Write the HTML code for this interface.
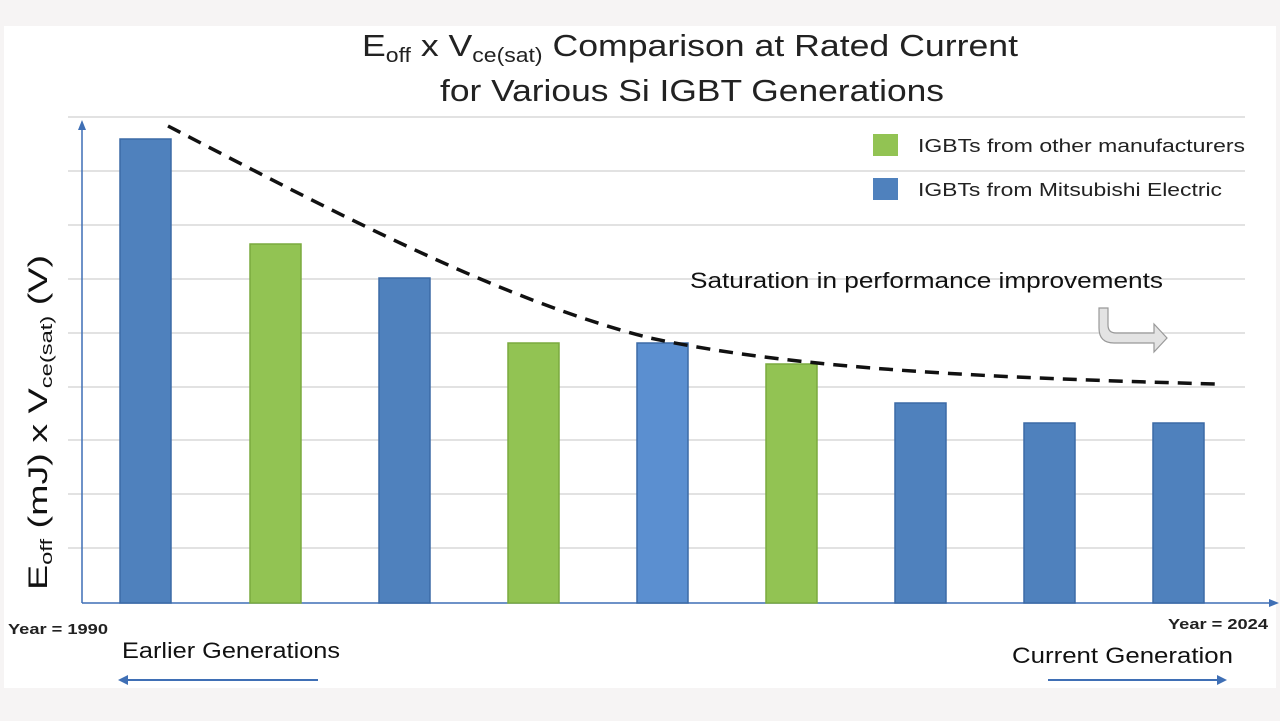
<!DOCTYPE html>
<html><head><style>
body{margin:0;background:#f6f4f4;}
svg{display:block;font-family:"Liberation Sans",sans-serif;}
</style></head><body>
<svg width="1280" height="721" viewBox="0 0 1280 721">
<rect x="0" y="0" width="1280" height="721" fill="#f6f4f4"/>
<rect x="4" y="26" width="1272" height="662" fill="#fff"/>
<g stroke="#d9d9d9" stroke-width="1.5">
<line x1="68" y1="117" x2="1245" y2="117"/><line x1="68" y1="171" x2="1245" y2="171"/>
<line x1="68" y1="225" x2="1245" y2="225"/><line x1="68" y1="279" x2="1245" y2="279"/>
<line x1="68" y1="333" x2="1245" y2="333"/><line x1="68" y1="387" x2="1245" y2="387"/>
<line x1="68" y1="440" x2="1245" y2="440"/><line x1="68" y1="494" x2="1245" y2="494"/>
<line x1="68" y1="548" x2="1245" y2="548"/>
</g>
<g stroke="#3f6fb5" stroke-width="1.5">
<line x1="82" y1="603" x2="82" y2="128"/><line x1="82" y1="603" x2="1272" y2="603"/>
</g>
<polygon points="82,120 78,130 86,130" fill="#3f6fb5"/>
<polygon points="1279,603 1269,599 1269,607" fill="#3f6fb5"/>
<g stroke-width="1.5">
<rect x="120" y="139" width="51" height="464" fill="#4f81bd" stroke="#3c6aa6"/>
<rect x="250" y="244" width="51" height="359" fill="#92c353" stroke="#7aaa3e"/>
<rect x="379" y="278" width="51" height="325" fill="#4f81bd" stroke="#3c6aa6"/>
<rect x="508" y="343" width="51" height="260" fill="#92c353" stroke="#7aaa3e"/>
<rect x="637" y="343" width="51" height="260" fill="#5b8fd0" stroke="#3c6aa6"/>
<rect x="766" y="364" width="51" height="239" fill="#92c353" stroke="#7aaa3e"/>
<rect x="895" y="403" width="51" height="200" fill="#4f81bd" stroke="#3c6aa6"/>
<rect x="1024" y="423" width="51" height="180" fill="#4f81bd" stroke="#3c6aa6"/>
<rect x="1153" y="423" width="51" height="180" fill="#4f81bd" stroke="#3c6aa6"/>
</g>
<path d="M168,126 C330,210 500,300 650,338 C800,370 1000,378 1215,384" fill="none" stroke="#111" stroke-width="3.5" stroke-dasharray="14,9"/>
<text x="362" y="56" font-size="31" fill="#222" textLength="656" lengthAdjust="spacingAndGlyphs">E<tspan font-size="20" dy="6">off</tspan><tspan dy="-6"> x V</tspan><tspan font-size="20" dy="6">ce(sat)</tspan><tspan dy="-6"> Comparison at Rated Current</tspan></text>
<text x="440" y="101" font-size="31" fill="#222" textLength="504" lengthAdjust="spacingAndGlyphs">for Various Si IGBT Generations</text>
<rect x="873" y="134" width="25" height="22" fill="#92c353"/>
<rect x="873" y="178" width="25" height="22" fill="#4f81bd"/>
<text x="918" y="152" font-size="18" fill="#222" textLength="327" lengthAdjust="spacingAndGlyphs">IGBTs from other manufacturers</text>
<text x="918" y="196" font-size="18" fill="#222" textLength="304" lengthAdjust="spacingAndGlyphs">IGBTs from Mitsubishi Electric</text>
<text x="690" y="288" font-size="22" fill="#111" textLength="473" lengthAdjust="spacingAndGlyphs">Saturation in performance improvements</text>
<path d="M1099,308 h9 v17 q0,8 8,8 h38 v-9 l13,14 l-13,14 v-9 h-40 q-15,0 -15,-15 z" fill="#e3e3e3" stroke="#999" stroke-width="1.2"/>
<text transform="translate(47,590) rotate(-90)" font-size="27" fill="#111" textLength="335" lengthAdjust="spacingAndGlyphs">E<tspan font-size="17" dy="5">off</tspan><tspan dy="-5"> (mJ) x V</tspan><tspan font-size="17" dy="5">ce(sat)</tspan><tspan dy="-5"> (V)</tspan></text>
<text x="8" y="634" font-size="15" font-weight="bold" fill="#222" textLength="100" lengthAdjust="spacingAndGlyphs">Year = 1990</text>
<text x="1168" y="629" font-size="15" font-weight="bold" fill="#222" textLength="100" lengthAdjust="spacingAndGlyphs">Year = 2024</text>
<text x="122" y="658" font-size="22" fill="#111" textLength="218" lengthAdjust="spacingAndGlyphs">Earlier Generations</text>
<text x="1012" y="663" font-size="22" fill="#111" textLength="221" lengthAdjust="spacingAndGlyphs">Current Generation</text>
<line x1="124" y1="680" x2="318" y2="680" stroke="#3f6fb5" stroke-width="2"/>
<polygon points="118,680 128,675 128,685" fill="#3f6fb5"/>
<line x1="1048" y1="680" x2="1220" y2="680" stroke="#3f6fb5" stroke-width="2"/>
<polygon points="1227,680 1217,675 1217,685" fill="#3f6fb5"/>
</svg>
</body></html>
